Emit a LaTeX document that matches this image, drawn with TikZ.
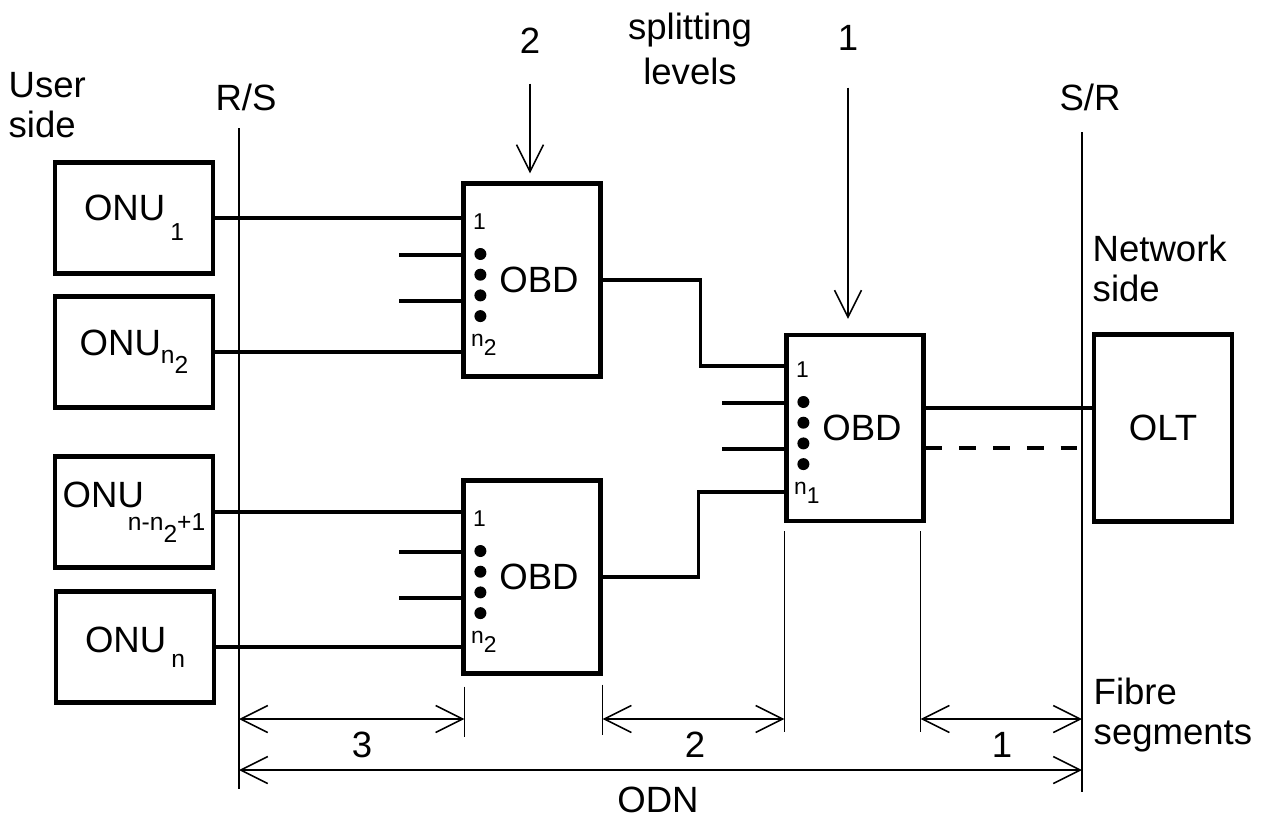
\documentclass[tikz,border=0pt]{standalone}
\usepackage{fontspec}
\setmainfont{Liberation Sans}
\usetikzlibrary{arrows.meta,positioning,calc}
\newcommand{\onusub}[2][2mm]{\raisebox{-#1}{\fontsize{7}{8}\selectfont #2}}
\newcommand{\lowsub}[2][0.9mm]{\raisebox{-#1}{#2}}

\begin{document}
\begin{tikzpicture}[x=0.1mm,y=-0.1mm,
    every node/.style={inner sep=0pt},
    font=\fontsize{10.4}{11.4}\selectfont,
    onubox/.style={draw,line width=1.2pt,minimum width=15.8mm,minimum height=11.1mm},
    obdbox/.style={draw,line width=1.2pt,minimum width=13.7mm,minimum height=19.3mm},
    fibre/.style={line width=0.95pt},
    thinline/.style={line width=0.45pt},
    dimarrow/.style={thinline,{Straight Barb[length=2.7mm,width=2.7mm]}-{Straight Barb[length=2.7mm,width=2.7mm]}},
    levelarrow/.style={thinline,-{Straight Barb[length=2.7mm,width=2.7mm]}},
    portlabel/.style={font=\fontsize{6.5}{7}\selectfont}]
    \useasboundingbox (0,0) rectangle (1264,821);

    % boxes
    \node[onubox] (onuA) at (134,218) {ONU\hspace{0.5mm}\onusub{1}};
    \node[onubox] (onuB) at (134,352) {ONU\onusub[0.8mm]{n\lowsub[1mm]{2}}};
    \node[onubox] (onuC) at (134,512) {ONU\hspace{-1.6mm}\onusub[2.3mm]{n-n\lowsub[1.2mm]{2}+1}};
    \node[onubox] (onuD) at (135,647) {ONU\hspace{0.5mm}\onusub[1.5mm]{n}};
    \node[obdbox] (obdA) at (532,280) {\hspace*{1.4mm}OBD};
    \node[obdbox] (obdB) at (532,577) {\hspace*{1.4mm}OBD};
    \node[obdbox,minimum height=18.6mm] (obdC) at (855,428) {\hspace*{1.4mm}OBD};
    \node[obdbox,minimum width=13.8mm,minimum height=18.7mm] (olt) at (1163,428) {OLT};

    % texts
    \node[align=left,anchor=north west] (user) at (8,72) {User\\side};
    \node[align=left,anchor=north west] (network) at (1092,234) {Network\\side};
    \node[align=left,anchor=north west] (fibres) at (1093,677) {Fibre\\segments};
    \node[align=center,anchor=north,font=\fontsize{10.4}{12.8}\selectfont] (split) at (690,12) {splitting\\levels};
    \node[anchor=base] (rs) at (246,110) {R/S};
    \node[anchor=base] (sr) at (1090,110) {S/R};
    \node[anchor=base] (lvlTwo) at (530,53) {2};
    \node[anchor=base] (lvlOne) at (848,50) {1};

    % reference points R/S and S/R
    \coordinate (rsTop) at (239,128);
    \coordinate (rsBot) at (239,789);
    \coordinate (srTop) at (1082,132);
    \coordinate (srBot) at (1082,792);
    \draw[thinline] (rsTop) -- (rsBot);
    \draw[thinline] (srTop) -- (srBot);

    % splitting levels
    \coordinate (tipTwo) at ($(obdA.north)+(-2,-8)$);
    \coordinate (tipOne) at ($(obdC.north)+(-7,-14)$);
    \draw[levelarrow] (lvlTwo.south) ++(0,30) -- (tipTwo);
    \draw[levelarrow] (lvlOne.south) ++(0,37) -- (tipOne);

    % ports of the splitters
    \foreach \b/\k in {obdA/2,obdB/2,obdC/1}{
      \draw[fibre] ($(\b.west)+(-62,-25)$) -- ($(\b.west)+(0,-25)$);
      \draw[fibre] ($(\b.west)+(-62,21)$) -- ($(\b.west)+(0,21)$);
      \foreach \i in {0,...,3}
        \fill ($(\b.west)+(19,-26+20.7*\i)$) circle (0.6mm);
      \node[portlabel] (\b-first) at ($(\b.west)+(18,-58)$) {1};
      \node[portlabel,anchor=base west] (\b-last) at ($(\b.west)+(9,66)$) {n\lowsub{\k}};
    }

    % fibres
    \foreach \o/\b in {onuA/obdA,onuB/obdA,onuC/obdB,onuD/obdB}
      \draw[fibre] (\o.east) -- (\o.east -| \b.west);
    \coordinate (inTop) at ($(obdC.west)+(0,-62)$);
    \coordinate (inBot) at ($(obdC.west)+(0,64)$);
    \draw[fibre] (obdA.east) -- ++(98,0) |- (inTop);
    \draw[fibre] (obdB.east) -- ++(96,0) |- (inBot);
    \draw[fibre] ($(obdC.east)+(0,-20)$) -- ($(olt.west)+(0,-20)$);
    \draw[fibre,dash pattern=on 4.8pt off 4.8pt] ($(obdC.east)+(0,20)$) -- ($(olt.west)+(0,20)$);

    % fibre segments
    \coordinate (rowA) at (0,719);
    \coordinate (rowB) at (0,770);
    \coordinate (extA) at ($(obdB.south west)+(3,0)$);
    \coordinate (extB) at (obdB.south east);
    \coordinate (extC) at (obdC.south west);
    \coordinate (extD) at ($(obdC.south east)+(-5,0)$);
    \draw[thinline] (extA) ++(0,11) -- ++(0,50);
    \draw[thinline] (extB) ++(0,9) -- ++(0,50);
    \draw[thinline] (extC) ++(0,8) -- (extC |- 0,732);
    \draw[thinline] (extD) ++(0,8) -- (extD |- 0,732);
    \draw[dimarrow] (rsTop |- rowA) -- (extA |- rowA);
    \draw[dimarrow] (extB |- rowA) -- (extC |- rowA);
    \draw[dimarrow] (extD |- rowA) -- (srTop |- rowA);
    \draw[dimarrow] (rsTop |- rowB) -- (srTop |- rowB);
    \node[anchor=base] (segThree) at (362,757) {3};
    \node[anchor=base] (segTwo) at (695,757) {2};
    \node[anchor=base] (segOne) at (1002,757) {1};
    \node[anchor=base] (odn) at (658,812) {ODN};
  \end{tikzpicture}
\end{document}
